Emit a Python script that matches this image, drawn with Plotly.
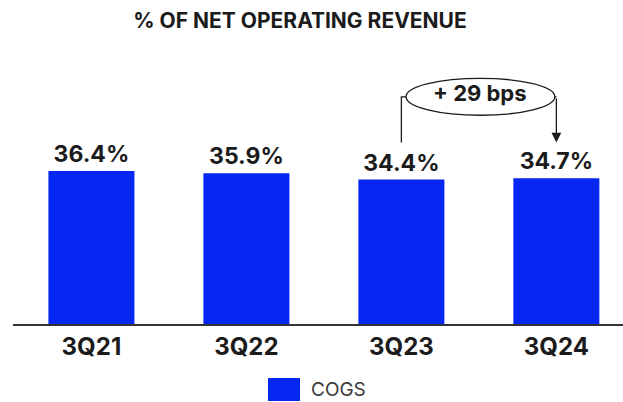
import plotly.graph_objects as go

# COGS as % of net operating revenue, third quarter of each year
quarters = ["3Q21", "3Q22", "3Q23", "3Q24"]
cogs_pct = [36.4, 35.9, 34.4, 34.7]
series_name = "COGS"
change_label = "+ 29 bps"

BLUE = "#0626F2"
INK = "#1b1b1b"
FONT = "Inter"

# plot area geometry in pixels
FIG_W, FIG_H = 623, 402
PLOT_L, PLOT_W = 13, 610
PLOT_BOTTOM, PLOT_H = 324, 264


def px_to_paper_y(py):
    return (PLOT_BOTTOM - py) / PLOT_H


def px_to_paper_x(px):
    return (px - PLOT_L) / PLOT_W


fig = go.Figure()
fig.add_trace(go.Bar(
    x=quarters,
    y=cogs_pct,
    name=series_name,
    marker=dict(color=BLUE, line=dict(width=0)),
    texttemplate="%{y:.1f}%",
    textposition="outside",
    textfont=dict(family=FONT, size=23, color=INK, weight=700),
    cliponaxis=False,
    showlegend=False,
))

# bracket from 3Q23 to 3Q24 with the change in an ellipse
idx_a, idx_b = 2, 3
y_foot = 43.2      # lower end of the connector lines
y_mid = 54.1       # ellipse centre height
ell_half_h = 4.4
ell_x0, ell_x1 = idx_a + 0.03, idx_b - 0.01

fig.add_shape(type="circle", xref="x", yref="y",
              x0=ell_x0, x1=ell_x1, y0=y_mid - ell_half_h, y1=y_mid + ell_half_h,
              line=dict(color=INK, width=1.3), fillcolor="white")
fig.add_shape(type="path", xref="x", yref="y",
              path=f"M {idx_a} {y_foot} L {idx_a} {y_mid} L {ell_x0} {y_mid}",
              line=dict(color=INK, width=1.3))
fig.add_shape(type="path", xref="x", yref="y",
              path=f"M {ell_x1} {y_mid} L {idx_b} {y_mid}",
              line=dict(color=INK, width=1.3))
fig.add_annotation(x=idx_b, y=y_foot, ax=idx_b, ay=y_mid,
                   xref="x", yref="y", axref="x", ayref="y",
                   showarrow=True, arrowhead=2, arrowsize=1.5, arrowwidth=1.3,
                   arrowcolor=INK, text="")
fig.add_annotation(x=(ell_x0 + ell_x1) / 2, y=y_mid + 0.8, xref="x", yref="y",
                   text=change_label, showarrow=False,
                   font=dict(family=FONT, size=22, color=INK, weight=700))

# legend swatch and label
fig.add_shape(type="rect", xref="paper", yref="paper",
              x0=px_to_paper_x(268), x1=px_to_paper_x(300),
              y0=px_to_paper_y(401), y1=px_to_paper_y(378),
              line=dict(width=0), fillcolor=BLUE)
fig.add_annotation(x=px_to_paper_x(309), y=px_to_paper_y(389), xref="paper", yref="paper",
                   xanchor="left", yanchor="middle", text=series_name, showarrow=False,
                   font=dict(family=FONT, size=19, color="#3a3a3a"))

fig.update_layout(
    width=FIG_W, height=FIG_H,
    margin=dict(l=PLOT_L, r=FIG_W - PLOT_L - PLOT_W,
                t=PLOT_BOTTOM - PLOT_H, b=FIG_H - PLOT_BOTTOM),
    paper_bgcolor="white", plot_bgcolor="white",
    bargap=0.445,
    title=dict(text="% OF NET OPERATING REVENUE", x=300 / FIG_W, xanchor="center",
               y=1 - 21 / FIG_H, yanchor="middle", xref="container", yref="container",
               font=dict(family=FONT, size=21, color=INK, weight=700)),
    xaxis=dict(range=[-0.506, 3.43], showline=True, linecolor="#333", linewidth=1.5,
               ticks="", showgrid=False, zeroline=False,
               tickfont=dict(family=FONT, size=24, color=INK, weight=700)),
    yaxis=dict(range=[0, PLOT_H / 4.2], visible=False, showgrid=False, zeroline=False),
)

fig.write_html("out.html")
